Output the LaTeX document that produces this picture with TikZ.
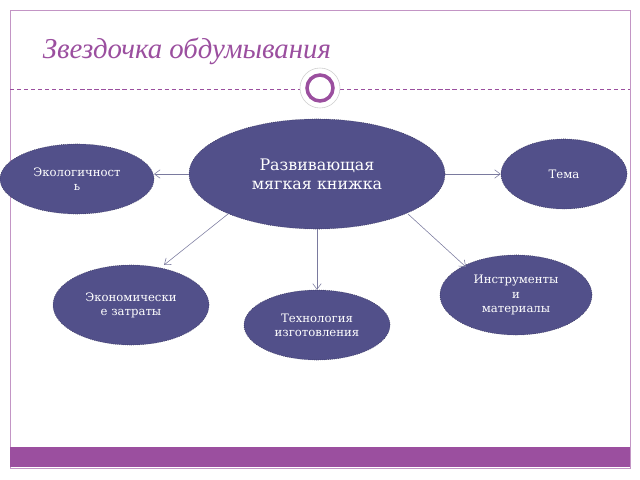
\documentclass[tikz,border=0pt]{standalone}
\usepackage{fontspec}
\setmainfont{DejaVu Serif}
\newfontfamily\titlefont{Liberation Serif}
\usetikzlibrary{shapes.geometric,arrows.meta}
\definecolor{ovalfill}{HTML}{52508A}
\definecolor{lilac}{HTML}{9B4F9F}
\definecolor{linkgray}{HTML}{7A7A9E}
\tikzset{
  idea/.style={ellipse,fill=ovalfill,draw=ovalfill!60!black,densely dotted,
    text=white,align=center,inner sep=0pt,font=\fontsize{8.3}{10}\selectfont},
  link/.style={draw=linkgray,thin,-{Straight Barb[length=4pt,width=6pt]}}
}
\begin{document}
\begin{tikzpicture}[x=0.025cm,y=-0.025cm]
\useasboundingbox (0,0) rectangle (640,480);
%% frame and bar
\draw[lilac!60,line width=0.6pt] (10,10) rectangle (630,468);
\fill[lilac] (10,447) rectangle (630,467);
%% title
\node[anchor=west,text=lilac,font=\titlefont\itshape\fontsize{20.5}{24}\selectfont] (title) at (38,51) {Звездочка обдумывания};
\draw[lilac,densely dashed,line width=0.5pt] (10,89) -- (300,89);
\draw[lilac,densely dashed,line width=0.5pt] (340,89) -- (630,89);
\fill[white,draw=gray!40] (320,88) circle (20);
\draw[lilac,line width=2.5pt] (320,88) circle (13);
%% ideas
\node[idea,font=\fontsize{11.3}{13.5}\selectfont,minimum width=6.4cm,minimum height=2.75cm] (core) at (317,174) {Развивающая\\мягкая книжка};
\node[idea,minimum width=3.85cm,minimum height=1.75cm] (eco) at (77,179) {Экологичност\\ь};
\node[idea,minimum width=3.15cm,minimum height=1.75cm] (theme) at (564,174) {Тема};
\node[idea,minimum width=3.8cm,minimum height=2cm] (tools) at (516,295) {Инструменты\\и\\материалы};
\node[idea,minimum width=3.9cm,minimum height=2cm] (cost) at (131,305) {Экономически\\е затраты};
\node[idea,minimum width=3.65cm,minimum height=1.75cm] (tech) at (317,325) {Технология\\изготовления};
%% link ends
\coordinate (ecoend) at (154,174);
\coordinate (costend) at (164,265);
\coordinate (toolsend) at (466,267);
\coordinate (corebl) at (228,214);
\coordinate (corebr) at (408,214);
%% links
\draw[link] (core.west) -- (ecoend);
\draw[link] (core.east) -- (theme.west);
\draw[link] (corebl) -- (costend);
\draw[link] (core.south) -- (tech.north);
\draw[link] (corebr) -- (toolsend);
\end{tikzpicture}
\end{document}
